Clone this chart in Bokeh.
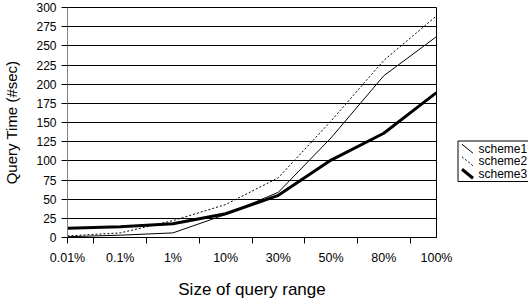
from bokeh.plotting import figure
from bokeh.layouts import row
from bokeh.models import FixedTicker, Range1d
from bokeh.core.properties import value
from bokeh.embed import file_html
from bokeh.resources import INLINE

categories = ["0.01%", "0.1%", "1%", "10%", "30%", "50%", "80%", "100%"]
scheme1 = [1, 3, 6, 30, 59, 130, 211, 262]
scheme2 = [2, 6, 22, 43, 78, 152, 231, 289]
scheme3 = [12, 14, 18, 31, 55, 101, 136, 189]
series_names = ["scheme1", "scheme2", "scheme3"]
y_ticks = list(range(0, 301, 25))

x = list(range(len(categories)))
FONT = "Liberation Sans"
H = 305
BT, BB = 7, 68  # top / bottom borders shared by both figures

p = figure(width=456, height=H, x_range=(0, len(categories) - 1), y_range=(0, 300),
           output_backend="svg", toolbar_location=None,
           min_border_left=65, min_border_right=20, min_border_top=BT, min_border_bottom=BB)

p.background_fill_color = "white"
p.border_fill_color = "white"
p.outline_line_color = "black"
p.outline_line_width = 1

# grid
p.xgrid.visible = False
p.ygrid.ticker = FixedTicker(ticks=y_ticks)
p.ygrid.grid_line_color = "black"
p.ygrid.grid_line_alpha = 1.0
p.ygrid.grid_line_width = 1

# x axis
p.xaxis.ticker = FixedTicker(ticks=x, minor_ticks=[0] + [i + 0.5 for i in x[:-1]])
p.xaxis.major_label_overrides = {i: c for i, c in zip(x, categories)}
p.xaxis.axis_line_color = "black"
p.xaxis.major_tick_out = 0
p.xaxis.major_tick_in = 0
p.xaxis.minor_tick_out = 6
p.xaxis.minor_tick_in = 0
p.xaxis.minor_tick_line_color = "black"
p.xaxis.major_label_standoff = 7
p.xaxis.major_label_text_font = FONT
p.xaxis.major_label_text_font_size = "12.5px"
p.xaxis.major_label_text_color = "black"
p.xaxis.axis_label = "Size of query range"
p.xaxis.axis_label_text_font = FONT
p.xaxis.axis_label_text_font_size = "17px"
p.xaxis.axis_label_text_font_style = "normal"
p.xaxis.axis_label_text_color = "black"
p.xaxis.axis_label_standoff = 12

# y axis
p.yaxis.ticker = FixedTicker(ticks=y_ticks)
p.yaxis.axis_line_color = "#808080"
p.yaxis.major_tick_out = 6
p.yaxis.major_tick_in = 0
p.yaxis.minor_tick_line_color = None
p.yaxis.major_tick_line_color = "black"
p.yaxis.major_label_standoff = 5
p.yaxis.major_label_text_font = FONT
p.yaxis.major_label_text_font_size = "12px"
p.yaxis.major_label_text_color = "black"
p.yaxis.axis_label = "Query Time (#sec)"
p.yaxis.axis_label_text_font = FONT
p.yaxis.axis_label_text_font_size = "15px"
p.yaxis.axis_label_text_font_style = "normal"
p.yaxis.axis_label_text_color = "black"
p.yaxis.axis_label_standoff = 13

styles = [dict(line_color="black", line_width=1),
          dict(line_color="black", line_width=1, line_dash="2 2"),
          dict(line_color="black", line_width=3)]

for ys, st in zip([scheme1, scheme2, scheme3], styles):
    p.line(x, ys, **st)

# legend panel: narrow figure whose ranges are page pixels (x right, y down)
LX0, LW = 456, 72
p2 = figure(width=LW, height=H, output_backend="svg", toolbar_location=None,
            x_range=Range1d(LX0, LX0 + LW), y_range=Range1d(H - BB, BT),
            x_axis_location=None, y_axis_location=None,
            min_border_left=0, min_border_right=0, min_border_top=BT, min_border_bottom=BB)
p2.outline_line_color = None
p2.grid.visible = False
p2.background_fill_color = "white"
p2.border_fill_color = "white"

box_left, box_top, row_h, pad = 457.5, 140.5, 12.5, 1.5
n = len(series_names)
box_bottom = box_top + pad * 2 + row_h * n
p2.quad(left=[box_left], right=[LX0 + LW + 5], top=[box_top], bottom=[box_bottom],
        fill_color="white", line_color="black", line_width=1)

for i, (name, st) in enumerate(zip(series_names, styles)):
    cy = box_top + pad + row_h * (i + 0.5)
    p2.segment(x0=[box_left + 4], y0=[cy - 4.5], x1=[box_left + 15], y1=[cy + 4.5], **st)

p2.text(x=[box_left + 20.5] * n,
        y=[box_top + pad + row_h * (i + 0.5) for i in range(n)],
        text=series_names, text_font=value(FONT), text_font_size="12px",
        text_color="black", text_baseline="middle", text_align="left")

layout = row(p, p2)
open("out.html", "w").write(file_html(layout, INLINE))
